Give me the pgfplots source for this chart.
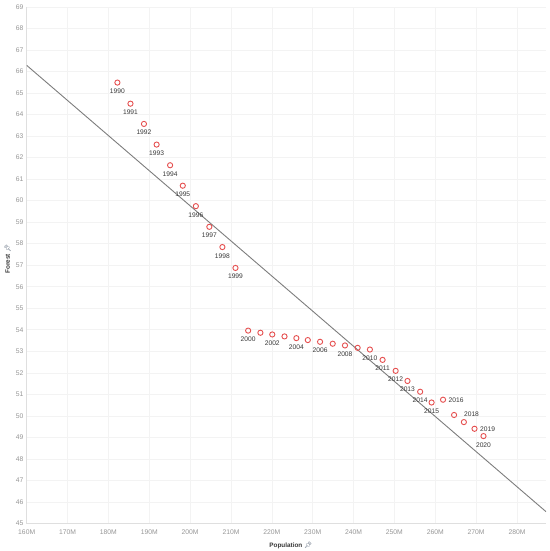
\documentclass[border=0pt]{standalone}
\usepackage{fontspec}
\setmainfont{Liberation Sans}
\newfontfamily\emoji{Noto Emoji}
\usepackage{pgfplots}
\usepackage{pgfplotstable}
\pgfplotsset{compat=1.18}

\definecolor{ptred}{RGB}{229,80,80}
\definecolor{tickgray}{RGB}{150,150,150}
\definecolor{gridgray}{RGB}{243,243,243}
\definecolor{trendgray}{RGB}{125,125,125}
\definecolor{labeltxt}{RGB}{55,55,55}
\definecolor{pingray}{RGB}{70,85,105}

% population in millions, forest in percent
% lpos: 0 no label, 1 below, 2 right, 3 above right
\pgfplotstableread{
year pop   forest lpos
1990 182.2 65.48  1
1991 185.4 64.50  1
1992 188.7 63.56  1
1993 191.8 62.60  1
1994 195.1 61.64  1
1995 198.2 60.69  1
1996 201.4 59.74  1
1997 204.7 58.78  1
1998 207.9 57.84  1
1999 211.1 56.87  1
2000 214.2 53.96  1
2001 217.2 53.86  0
2002 220.1 53.78  1
2003 223.1 53.69  0
2004 226.0 53.61  1
2005 228.8 53.52  0
2006 231.8 53.44  1
2007 234.9 53.35  0
2008 237.9 53.27  1
2009 241.0 53.16  0
2010 244.0 53.08  1
2011 247.1 52.60  1
2012 250.3 52.09  1
2013 253.2 51.62  1
2014 256.3 51.12  1
2015 259.1 50.62  1
2016 261.9 50.75  2
2017 264.6 50.04  0
2018 267.0 49.71  3
2019 269.6 49.40  2
2020 271.8 49.06  1
}\forestdata

\begin{document}
\begin{tikzpicture}
  \begin{axis}[
      scale only axis,
      width=519.3bp, height=516.7bp,
      xmin=160, xmax=287.1,
      ymin=45, ymax=69,
      xtick={160,170,...,280},
      ytick={45,46,...,69},
      xticklabel={\pgfmathprintnumber{\tick}M},
      /pgf/number format/assume math mode=true,
      major tick length=0pt,
      axis lines*=left,
      axis line style={draw=gray!25},
      grid=major,
      grid style={draw=gridgray, line width=0.5bp},
      tick label style={font=\fontsize{6.8}{7}\selectfont, text=tickgray},
      xticklabel style={anchor=center, yshift=-8.8bp},
      yticklabel style={anchor=east, inner sep=0pt, xshift=-3.2bp},
      xlabel={Population {\emoji\textcolor{pingray}{📌}}},
      ylabel={Forest {\emoji\textcolor{pingray}{📌}}},
      label style={font=\bfseries\fontsize{6.4}{7}\selectfont, text=labeltxt},
      xlabel style={at={(axis description cs:0.5,0)}, anchor=center,
        yshift=-21.5bp, xshift=4.5bp},
      ylabel style={at={(axis description cs:0,0.512)}, anchor=center,
        rotate=0, yshift=19bp},
      point meta=explicit symbolic,
      nodes near coords,
      every node near coord/.append style={font=\fontsize{6.7}{7}\selectfont,
        text=labeltxt, inner sep=0pt},
  ]

  % trend line
  \addplot[trendgray, line width=0.9bp, no marks, nodes near coords=]
    coordinates {(160,66.28) (287.1,45.55)};

  % points
  \addplot[only marks, mark=o, mark size=2.6bp, ptred,
    mark options={line width=0.9bp}, nodes near coords=]
    table[x=pop, y=forest] {\forestdata};

  % year labels below
  \addplot[only marks, mark=none,
    nodes near coords style={anchor=center, yshift=-8.7bp}]
    table[x=pop, y=forest, meta=year,
      restrict expr to domain={\thisrow{lpos}}{1:1}] {\forestdata};

  % year labels right
  \addplot[only marks, mark=none,
    nodes near coords style={anchor=west, xshift=5.5bp}]
    table[x=pop, y=forest, meta=year,
      restrict expr to domain={\thisrow{lpos}}{2:2}] {\forestdata};

  % year label above right
  \addplot[only marks, mark=none,
    nodes near coords style={anchor=west, xshift=0bp, yshift=8bp}]
    table[x=pop, y=forest, meta=year,
      restrict expr to domain={\thisrow{lpos}}{3:3}] {\forestdata};

  \end{axis}
  \pgfresetboundingbox
  \path[use as bounding box]
    ([xshift=-26.7bp, yshift=-27.5bp]current axis.south west) rectangle
    ([xshift=4bp, yshift=6.8bp]current axis.north east);
\end{tikzpicture}
\end{document}
